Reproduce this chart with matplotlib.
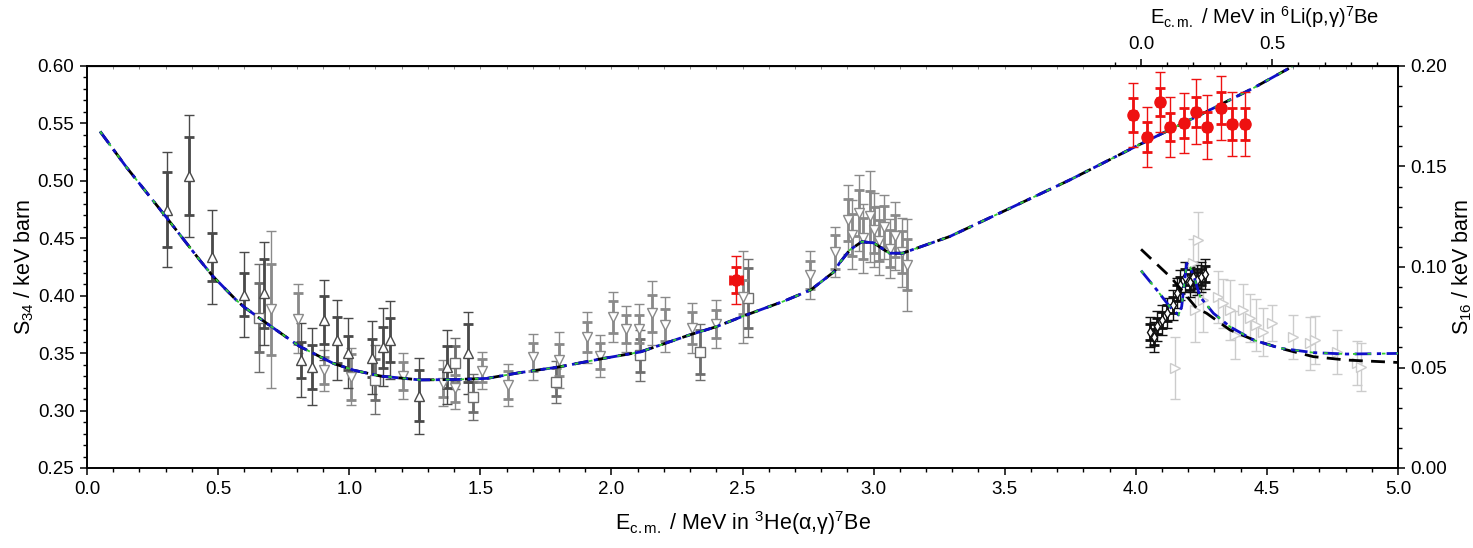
import matplotlib.pyplot as plt
from matplotlib.ticker import MultipleLocator, FixedLocator

plt.rcParams['font.family'] = ['Liberation Sans', 'DejaVu Sans']
plt.rcParams['mathtext.fontset'] = 'custom'
plt.rcParams['mathtext.rm'] = 'Liberation Sans'
plt.rcParams['mathtext.it'] = 'Liberation Sans:italic'

# E_cm(6Li+p) = E_cm(3He+alpha) - SHIFT
SHIFT = 4.02

# ---- S34 model curve (same for the three calculations, within reading precision)
s34_fit_x = [0.05, 0.15, 0.30, 0.43, 0.48, 0.57, 0.60, 0.685, 0.81, 0.94, 1.02, 1.12,
             1.27, 1.40, 1.525, 1.65, 1.80, 1.96, 2.11, 2.30, 2.40, 2.50, 2.655, 2.76,
             2.85, 2.87, 2.91, 2.955, 3.00, 3.06, 3.11, 3.29, 3.50, 3.75, 4.00, 4.25,
             4.45, 4.60]
s34_fit_y = [0.543, 0.512, 0.469, 0.431, 0.417, 0.396, 0.390, 0.376, 0.356, 0.341, 0.335, 0.330,
             0.3267, 0.327, 0.328, 0.333, 0.338, 0.345, 0.351, 0.366, 0.373, 0.382, 0.395, 0.405,
             0.421, 0.4285, 0.440, 0.447, 0.446, 0.437, 0.437, 0.4515, 0.474, 0.501, 0.530, 0.558,
             0.581, 0.600]

# ---- S16 model curves (energy on the 6Li+p scale)
s16_black_e = [0.0, 0.117, 0.212, 0.25, 0.339, 0.43, 0.53, 0.581, 0.657, 0.784, 0.98]
s16_black_s = [0.1088, 0.0944, 0.0795, 0.077, 0.0687, 0.0637, 0.0596, 0.0579, 0.0554, 0.0537, 0.0525]
s16_blue_e = [0.0, 0.06, 0.111, 0.143, 0.155, 0.174, 0.187, 0.206, 0.225, 0.276, 0.339,
              0.428, 0.53, 0.657, 0.784, 0.98]
s16_blue_s = [0.0982, 0.0886, 0.080, 0.0761, 0.0803, 0.1018, 0.100, 0.0935, 0.0852, 0.077, 0.0703,
              0.0637, 0.0596, 0.0574, 0.0567, 0.057]

# ---- S34 data: open up-triangles (dark grey)
up_x = [0.304, 0.389, 0.478, 0.599, 0.676, 0.816, 0.857, 0.904, 0.952, 0.997, 1.086, 1.13,
        1.156, 1.268, 1.374, 1.454]
up_y = [0.475, 0.504, 0.434, 0.401, 0.402, 0.344, 0.338, 0.379, 0.3615, 0.350, 0.346, 0.355,
        0.3615, 0.313, 0.338, 0.350]
up_in = [0.033, 0.034, 0.021, 0.019, 0.030, 0.016, 0.0195, 0.021, 0.020, 0.0145, 0.0165, 0.018,
         0.019, 0.022, 0.018, 0.025]
up_out = [0.050, 0.053, 0.041, 0.037, 0.045, 0.032, 0.0335, 0.035, 0.035, 0.0305, 0.032, 0.034,
          0.034, 0.033, 0.0325, 0.036]

# ---- S34 data: open down-triangles (grey)
dn_x = [0.702, 0.803, 0.904, 1.005, 1.204, 1.356, 1.404, 1.505, 1.607, 1.702, 1.802, 1.906,
        1.957, 2.005, 2.056, 2.106, 2.153, 2.205, 2.306, 2.40, 2.503, 2.757, 2.853, 2.904,
        2.916, 2.945, 2.96, 2.986, 3.00, 3.02, 3.04, 3.063, 3.08, 3.107, 3.126]
dn_y = [0.388, 0.380, 0.335, 0.3295, 0.330, 0.3238, 0.3194, 0.3348, 0.3223, 0.3464, 0.344, 0.3638,
        0.3476, 0.3813, 0.3708, 0.3708, 0.3847, 0.3746, 0.3717, 0.3754, 0.399, 0.418, 0.438, 0.466,
        0.453, 0.472, 0.450, 0.469, 0.457, 0.448, 0.460, 0.441, 0.452, 0.438, 0.427]
dn_in = [0.040, 0.022, 0.012, 0.020, 0.012, 0.012, 0.012, 0.010, 0.012, 0.012, 0.014, 0.013,
         0.011, 0.014, 0.012, 0.012, 0.016, 0.014, 0.014, 0.012, 0.015, 0.012, 0.015, 0.018,
         0.018, 0.020, 0.018, 0.022, 0.020, 0.018, 0.018, 0.016, 0.018, 0.018, 0.022]
dn_out = [0.068, 0.030, 0.018, 0.025, 0.020, 0.020, 0.018, 0.016, 0.018, 0.020, 0.024, 0.022,
          0.018, 0.022, 0.020, 0.022, 0.028, 0.024, 0.022, 0.021, 0.040, 0.021, 0.022, 0.030,
          0.030, 0.033, 0.030, 0.040, 0.032, 0.030, 0.028, 0.026, 0.030, 0.030, 0.040]

# ---- S34 data: open squares (grey)
sq_x = [0.657, 1.098, 1.404, 1.473, 1.789, 2.109, 2.338, 2.522]
sq_y = [0.381, 0.327, 0.341, 0.312, 0.325, 0.348, 0.351, 0.398]
sq_in = [0.030, 0.018, 0.015, 0.013, 0.012, 0.014, 0.019, 0.026]
sq_out = [0.047, 0.030, 0.022, 0.020, 0.018, 0.022, 0.024, 0.034]

# ---- S34 data: red point
red34_x = [2.475]
red34_y = [0.4137]
red34_in = [0.011]
red34_out = [0.0205]

# ---- S16 data (energy on the 6Li+p scale, right axis)
red16_e = [-0.031, 0.023, 0.072, 0.110, 0.164, 0.209, 0.251, 0.305, 0.347, 0.396]
red16_s = [0.1756, 0.1647, 0.1822, 0.1698, 0.1715, 0.1773, 0.1695, 0.179, 0.1711, 0.1711]
red16_in = [0.0085, 0.0075, 0.0070, 0.0070, 0.0075, 0.0075, 0.0075, 0.0080, 0.0080, 0.0080]
red16_out = [0.0160, 0.0150, 0.0150, 0.0150, 0.0150, 0.0160, 0.0160, 0.0160, 0.0160, 0.0160]

blk16_e = [0.034, 0.05, 0.062, 0.08, 0.10, 0.12, 0.136, 0.149, 0.168, 0.187, 0.20, 0.215, 0.23, 0.244]
blk16_s = [0.0678, 0.0653, 0.0706, 0.0736, 0.077, 0.0811, 0.0869, 0.091, 0.0952, 0.0927, 0.0952,
           0.0935, 0.0952, 0.0965]
blk16_in = [0.004] * 14
blk16_out = [0.0075] * 14

lt16_e = [0.13, 0.218, 0.20, 0.206, 0.237, 0.295, 0.314, 0.339, 0.358, 0.39, 0.415, 0.44,
          0.466, 0.50, 0.58, 0.645, 0.663, 0.746, 0.822, 0.84]
lt16_s = [0.0496, 0.1134, 0.1018, 0.0786, 0.0836, 0.0852, 0.0819, 0.0786, 0.0662, 0.0786, 0.0745,
          0.0711, 0.0678, 0.0723, 0.0653, 0.062, 0.0637, 0.0579, 0.0521, 0.0504]
lt16_err = [0.0155, 0.014, 0.012, 0.016, 0.016, 0.013, 0.012, 0.015, 0.012, 0.013, 0.012,
            0.013, 0.012, 0.009, 0.011, 0.013, 0.012, 0.011, 0.011, 0.012]


def draw_points(axis, x, y, inner, outer, marker, color, size=7.5, face='white', xerr=None):
    axis.errorbar(x, y, yerr=outer, fmt='none', ecolor=color, elinewidth=1.0,
                  capsize=3.5, capthick=1.0, zorder=2)
    if inner is not None:
        axis.errorbar(x, y, yerr=inner, xerr=xerr, fmt='none', ecolor=color, elinewidth=2.0,
                      capsize=3.5, capthick=2.0, zorder=2)
    axis.plot(x, y, linestyle='none', marker=marker, ms=size, mfc=face, mec=color,
              mew=1.0, zorder=3)


def draw_models(axis, x, y_black, y_blue):
    axis.plot(x, y_black, color='black', lw=2.0, dashes=(5, 3), zorder=4)
    axis.plot(x, y_blue, color='#1010c8', lw=2.0, dashes=(6, 2, 1.5, 2), zorder=5)
    axis.plot(x, y_blue, color='#33cc33', lw=1.3, dashes=(2, 6), zorder=6)


fig = plt.figure(figsize=(14.73, 5.48), dpi=100)
ax = fig.add_axes([87 / 1473, 1 - 468 / 548, (1398 - 87) / 1473, (468 - 66) / 548])
ax2 = ax.twinx()

# S34 side
draw_points(ax, sq_x, sq_y, sq_in, sq_out, 's', '#6e6e6e', size=7)
draw_points(ax, dn_x, dn_y, dn_in, dn_out, 'v', '#8a8a8a')
draw_points(ax, up_x, up_y, up_in, up_out, '^', '#4a4a4a')
draw_points(ax, red34_x, red34_y, red34_in, red34_out, 'o', '#ee1111', size=8,
            face='#ee1111', xerr=0.022)
draw_models(ax, s34_fit_x, s34_fit_y, s34_fit_y)

# S16 side (plotted against the shifted energy)
lt_x = [e + SHIFT for e in lt16_e]
draw_points(ax2, lt_x, lt16_s, None, lt16_err, '>', '#cccccc', size=7)
blk_x = [e + SHIFT for e in blk16_e]
draw_points(ax2, blk_x, blk16_s, blk16_in, blk16_out, 'd', '#111111', size=5)
red_x = [e + SHIFT for e in red16_e]
draw_points(ax2, red_x, red16_s, red16_in, red16_out, 'o', '#ee1111', size=8,
            face='#ee1111', xerr=0.012)
ax2.plot([e + SHIFT for e in s16_black_e], s16_black_s, color='black', lw=2.0,
         dashes=(5, 3), zorder=4)
blue_x = [e + SHIFT for e in s16_blue_e]
ax2.plot(blue_x, s16_blue_s, color='#1010c8', lw=2.0, dashes=(6, 2, 1.5, 2), zorder=5)
ax2.plot(blue_x, s16_blue_s, color='#33cc33', lw=1.3, dashes=(2, 6), zorder=6)

# axes ranges and ticks
ax.set_xlim(0.0, 5.0)
ax.set_ylim(0.25, 0.60)
ax2.set_ylim(0.0, 0.20)
ax.xaxis.set_major_locator(MultipleLocator(0.5))
ax.xaxis.set_minor_locator(MultipleLocator(0.1))
ax.yaxis.set_major_locator(MultipleLocator(0.05))
ax.yaxis.set_minor_locator(MultipleLocator(0.01))
ax2.yaxis.set_major_locator(MultipleLocator(0.05))
ax2.yaxis.set_minor_locator(MultipleLocator(0.01))
ax.xaxis.set_major_formatter(plt.FormatStrFormatter('%.1f'))
ax.yaxis.set_major_formatter(plt.FormatStrFormatter('%.2f'))
ax2.yaxis.set_major_formatter(plt.FormatStrFormatter('%.2f'))

for a in (ax, ax2):
    a.tick_params(which='major', direction='out', length=5, width=1.1, labelsize=13.5, pad=4)
    a.tick_params(which='minor', direction='out', length=3, width=1.0)
    for sp in a.spines.values():
        sp.set_linewidth(1.2)

# faint inward mirror ticks on the top edge
mirror = ax.secondary_xaxis('top')
mirror.xaxis.set_major_locator(MultipleLocator(0.1))
mirror.tick_params(direction='in', length=2, width=0.6, colors='#777777', labeltop=False)

top = ax.secondary_xaxis('top', functions=(lambda x: x - SHIFT, lambda x: x + SHIFT))
top.set_xticks([0.0, 0.5])
top.set_xticklabels(['0.0', '0.5'])
top.xaxis.set_minor_locator(FixedLocator([-0.1, 0.1, 0.2, 0.3, 0.4, 0.6, 0.7, 0.8, 0.9]))
top.tick_params(which='major', direction='out', length=5, width=1.1, labelsize=13.5, pad=4)
top.tick_params(which='minor', direction='out', length=3, width=1.0)

ax.set_xlabel(r'E$_\mathrm{c.m.}$ / MeV in $^\mathrm{3}$He(α,γ)$^\mathrm{7}$Be', fontsize=15.5,
              labelpad=8)
ax.set_ylabel(r'S$_\mathrm{34}$ / keV barn', fontsize=15.5, labelpad=1)
ax2.set_ylabel(r'S$_\mathrm{16}$ / keV barn', fontsize=15.5, labelpad=2)
fig.text(1265 / 1473, 1 - 17 / 548, r'E$_\mathrm{c.m.}$ / MeV in $^\mathrm{6}$Li(p,γ)$^\mathrm{7}$Be',
         fontsize=14.5, ha='center', va='center')

fig.savefig('out.png', dpi=100)
